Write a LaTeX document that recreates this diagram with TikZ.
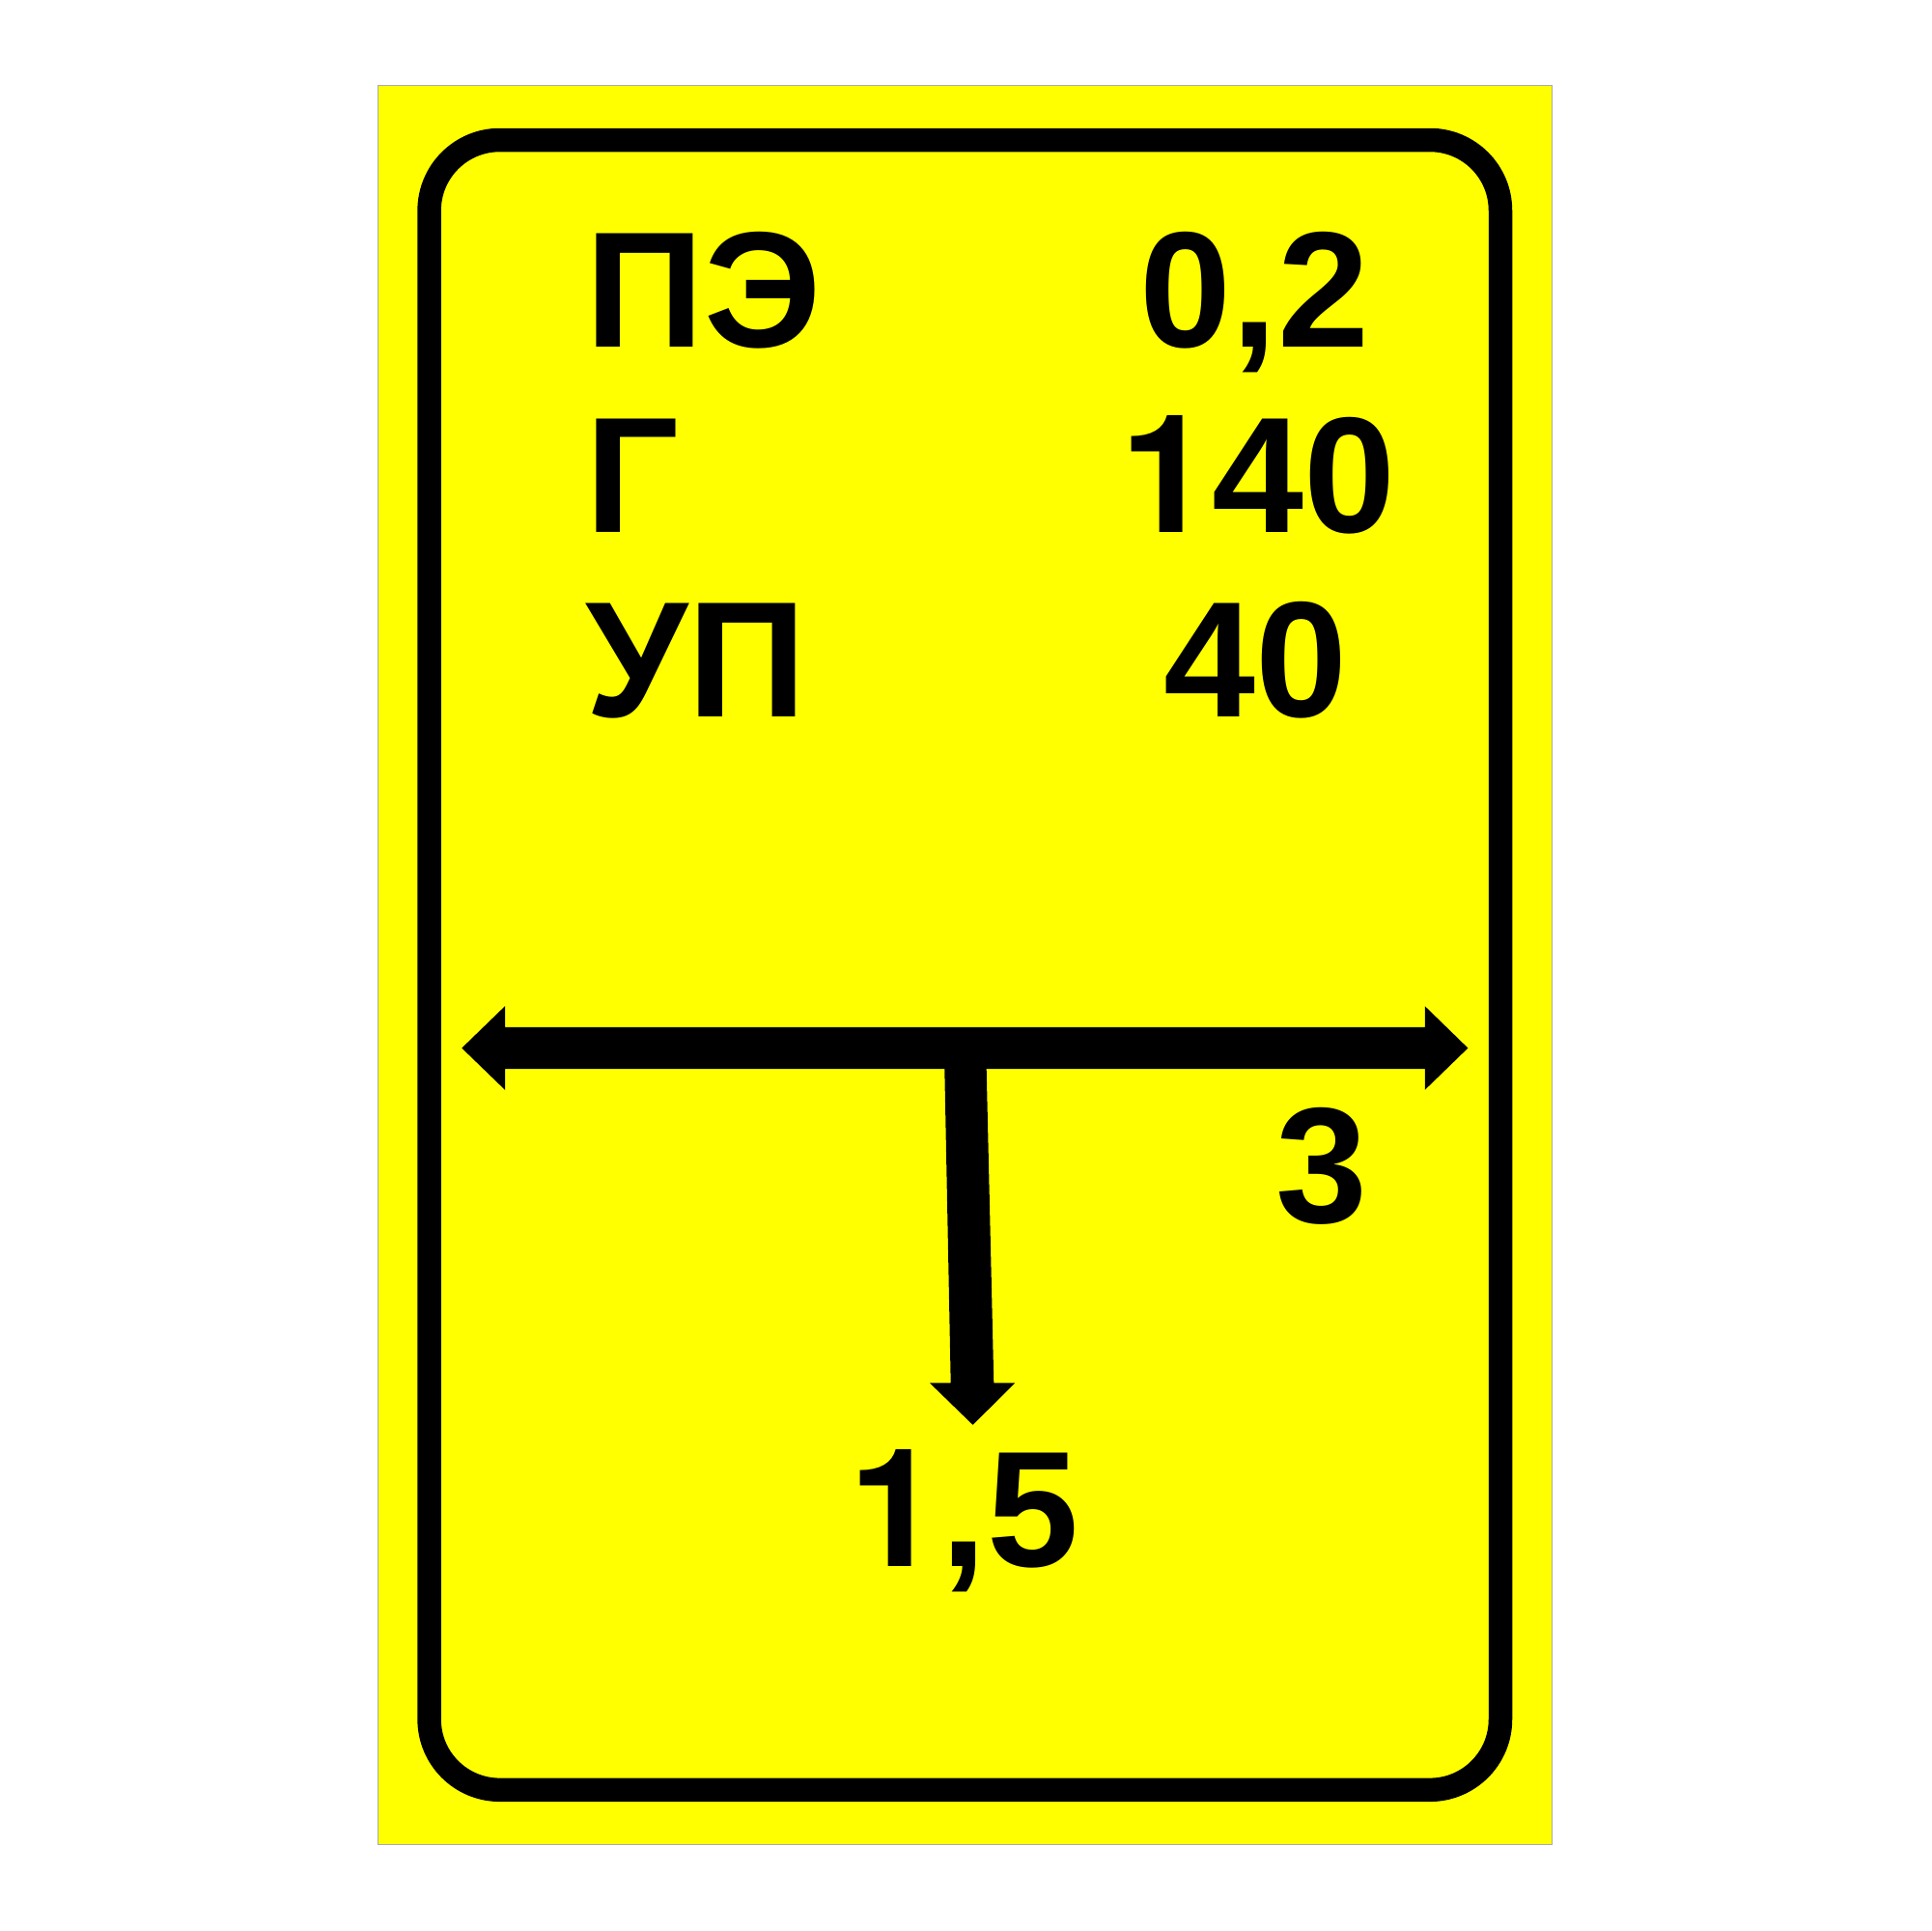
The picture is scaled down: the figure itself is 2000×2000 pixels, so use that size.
\documentclass[tikz,border=0pt]{standalone}
\usepackage{fontspec}
\setmainfont{Liberation Sans}
\newfontfamily\onefont{TeX Gyre Heros}
\newcommand{\signone}{{\onefont 1}}
\definecolor{signyellow}{RGB}{255,255,0}
\definecolor{edgegray}{RGB}{170,170,170}
\tikzset{
  signtext/.style={
    inner sep = 0pt,
    anchor = base west,
    font = \fontsize{48.6pt}{58pt}\selectfont\bfseries
  },
  signframe/.style={
    draw,
    line width = 2.45mm,
    rounded corners = 7.3mm
  }
}

\begin{document}
\begin{tikzpicture}[x=0.1mm,y=-0.1mm]
    \useasboundingbox (0,0) rectangle (2000,2000);
    \draw[edgegray, fill=signyellow, line width=0.1mm] (391.6,88) rectangle (1607.2,1910.7);
    \draw[signframe] (444.6,145) rectangle (1554,1853.8);
    % table of rows
    \foreach \lbl/\val/\vx [count=\i] in {ПЭ/{0,2}/1180, Г/{\signone 40}/1160, УП/40/1205}{
        \node[signtext] (lbl\i) at (606,{359.7+191.3*(\i-1)}) {\lbl};
        \node[signtext] (val\i) at (\vx,{359.7+191.3*(\i-1)}) {\val};
    }
    % arrows
    \coordinate (tipl) at (478.3,1085.5);
    \coordinate (tipr) at (1520.4,1085.5);
    \coordinate (tipd) at (1007.6,1475.8);
    \fill (tipl) -- (523,1042.1) -- (523,1063.8) -- (1475.8,1063.8) -- (1475.8,1042.1)
        -- (tipr) -- (1475.8,1128.8) -- (1475.8,1107.1) -- (1021.7,1107.1)
        -- (1029.3,1432.4) -- (1051.2,1432.4) -- (tipd) -- (963,1432.4) -- (984.7,1432.4)
        -- (978.3,1107.1) -- (523,1107.1) -- (523,1128.8) -- cycle;
    \node[signtext] (dist) at (1321,1266.6) {3};
    \node[signtext] (depth) at (879,1622.4) {\signone,5};
\end{tikzpicture}
\end{document}
